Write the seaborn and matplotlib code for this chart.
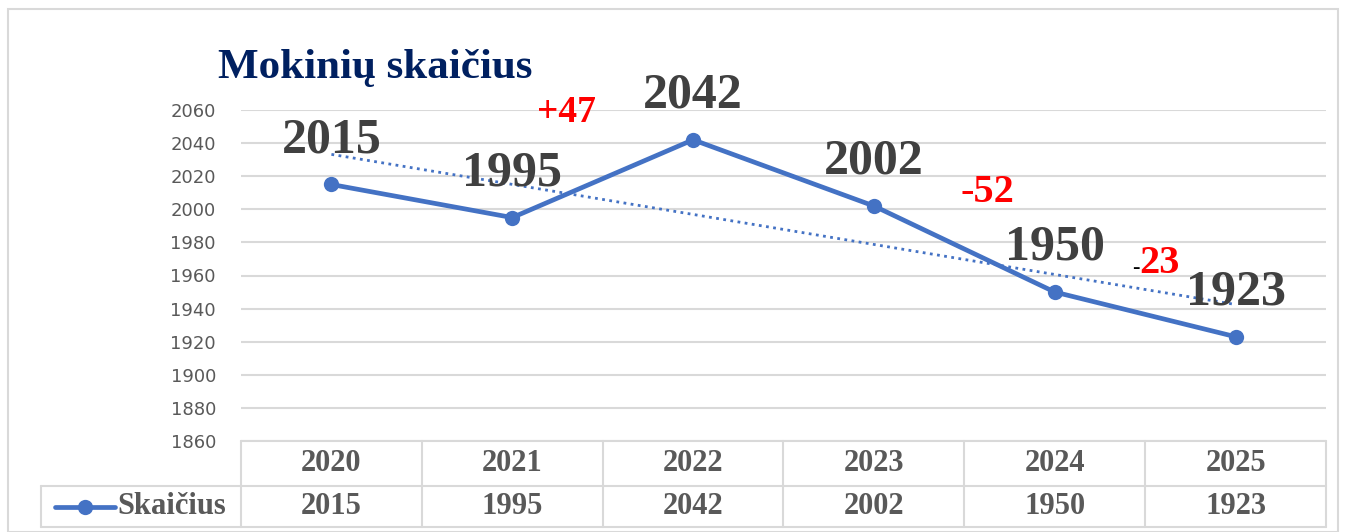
import numpy as np
import pandas as pd
import matplotlib.pyplot as plt
import matplotlib.transforms as mtrans
from matplotlib.patches import Rectangle
from matplotlib.lines import Line2D
import seaborn as sns

# duomenys
years = ['2020', '2021', '2022', '2023', '2024', '2025']
counts = [2015, 1995, 2042, 2002, 1950, 1923]
series_name = 'Skaičius'
title = 'Mokinių skaičius'
y_ticks = [1860, 1880, 1900, 1920, 1940, 1960, 1980, 2000, 2020, 2040, 2060]
changes = ['+47', '-52', '-23']

sns.set_theme(style='white')
plt.rcParams['font.family'] = ['Liberation Serif', 'DejaVu Serif']

blue = '#4472C4'
grid_c = '#D9D9D9'
lab_c = '#404040'
tab_c = '#595959'

df = pd.DataFrame({'idx': np.arange(len(years)), 'value': counts})

fig = plt.figure(figsize=(13.46, 5.32), dpi=100)
ax = fig.add_axes([241 / 1346, 1 - 441 / 532, 1085 / 1346, 331 / 532])

# tendencijos linija
k, b = np.polyfit(df['idx'], df['value'], 1)
ax.plot(df['idx'], k * df['idx'] + b, color=blue, lw=2, ls=(0, (1, 1.6)), zorder=2)

sns.lineplot(data=df, x='idx', y='value', ax=ax, color=blue, lw=3.4,
             marker='o', markersize=11, markeredgewidth=0, zorder=3)

ax.set_xlim(-0.5, len(years) - 0.5)
ax.set_ylim(y_ticks[0], y_ticks[-1])
ax.set_yticks(y_ticks)
ax.set_yticklabels([str(t) for t in y_ticks], family='DejaVu Sans',
                   fontsize=13, color=tab_c)
ax.tick_params(axis='y', length=0, pad=18)
ax.set_xticks([])
ax.set_xlabel('')
ax.set_ylabel('')
for s in ax.spines.values():
    s.set_visible(False)
ax.yaxis.grid(True, color=grid_c, lw=1.5)
ax.set_axisbelow(True)

# reikšmių žymės
for i, v in enumerate(counts):
    ax.annotate(str(v), (i, v), xytext=(0, 32), textcoords='offset points',
                ha='center', va='center', fontsize=36, fontweight='bold',
                color=lab_c, zorder=5)

# pokyčiai
ax.text(1.3, 2058.5, changes[0], color='red', fontsize=27, fontweight='bold',
        ha='center', va='center')
ax.text(3.63, 2010, changes[1], color='red', fontsize=29, fontweight='bold',
        ha='center', va='center')
ax.text(4.45, 1964, changes[2][0], color='black', fontsize=16,
        ha='center', va='center')
ax.text(4.58, 1967.5, changes[2][1:], color='red', fontsize=29, fontweight='bold',
        ha='center', va='center')

ax.set_title(title, fontsize=31, fontweight='bold', color='#002060',
             x=(375 - 241) / 1085, y=1.07, ha='center')

# duomenų lentelė po grafiku
tr = mtrans.blended_transform_factory(ax.transData, fig.transFigure)
y_top = 1 - 441 / 532
y_mid = 1 - 486 / 532
y_bot = 1 - 527 / 532
x_leg = -0.5 - 200 / 181
kw = dict(color=grid_c, lw=1.5, transform=tr, clip_on=False)
ax.plot([-0.5, len(years) - 0.5], [y_top, y_top], **kw)
ax.plot([x_leg, len(years) - 0.5], [y_mid, y_mid], **kw)
ax.plot([x_leg, len(years) - 0.5], [y_bot, y_bot], **kw)
ax.plot([x_leg, x_leg], [y_mid, y_bot], **kw)
for j in range(len(years) + 1):
    ax.plot([j - 0.5, j - 0.5], [y_top, y_bot], **kw)

for i, (yr, v) in enumerate(zip(years, counts)):
    ax.text(i, (y_top + y_mid) / 2, yr, transform=tr, ha='center', va='center',
            fontsize=22, fontweight='bold', color=tab_c)
    ax.text(i, (y_mid + y_bot) / 2, str(v), transform=tr, ha='center', va='center',
            fontsize=22, fontweight='bold', color=tab_c)

# legendos langelis
ly = (y_mid + y_bot) / 2
fig.add_artist(Line2D([55 / 1346, 115 / 1346], [ly, ly], color=blue, lw=3.4))
fig.add_artist(Line2D([85 / 1346], [ly], color=blue, marker='o', markersize=11,
                      markeredgewidth=0))
fig.text(117 / 1346, ly, series_name, ha='left', va='center', fontsize=22,
         fontweight='bold', color=tab_c)

# rėmelis
fig.add_artist(Rectangle((8 / 1346, 0), 1330 / 1346, 1 - 9 / 532,
                         transform=fig.transFigure, fill=False,
                         ec=grid_c, lw=1.5))

fig.savefig('out.png', dpi=100)
